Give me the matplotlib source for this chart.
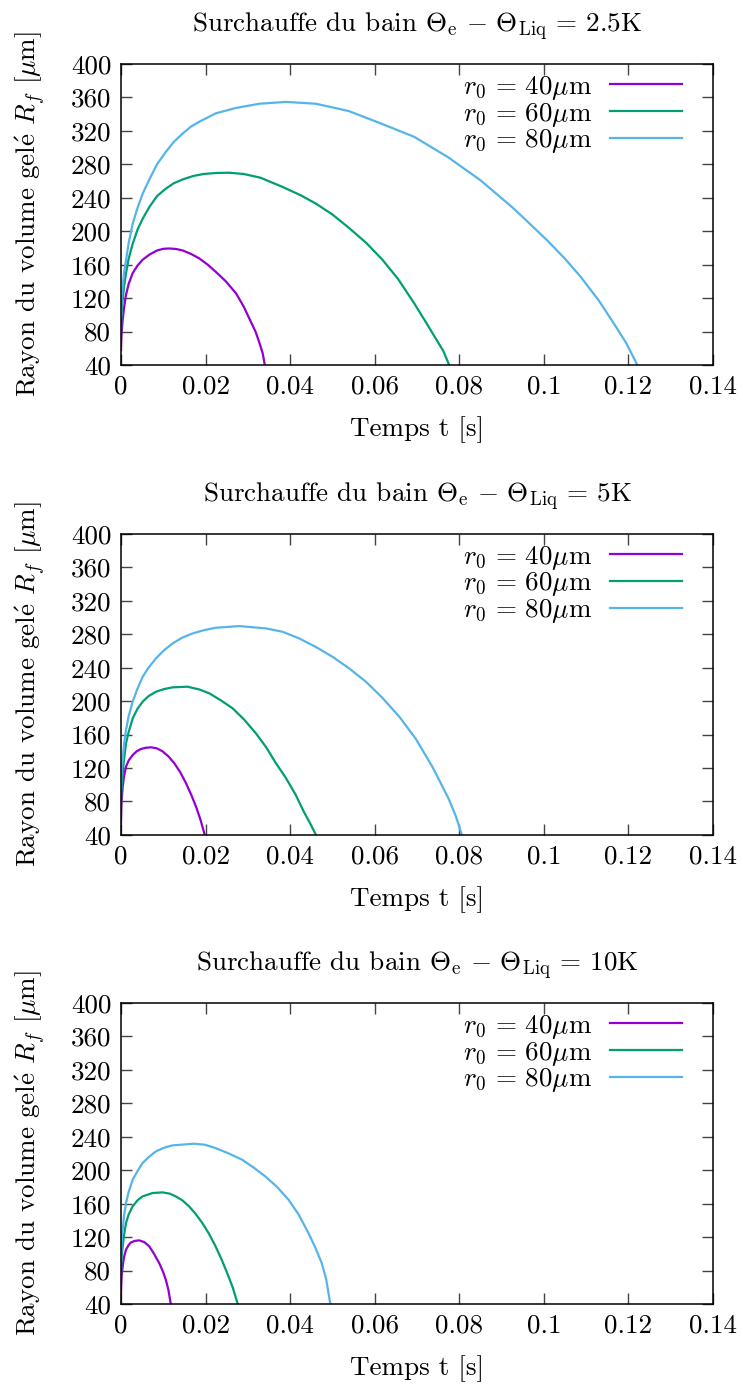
import matplotlib
matplotlib.use("Agg")
import matplotlib.pyplot as plt
from matplotlib.ticker import FuncFormatter, MultipleLocator

plt.rcParams['font.family'] = ['cmr10', 'DejaVu Serif']
plt.rcParams['mathtext.fontset'] = 'cm'
plt.rcParams['font.size'] = 19.5

# Rayon du volume gelé R_f [µm] en fonction du temps t [s]
# --- surchauffe 2.5 K ---
t25_r40 = [0.0, 0.00008, 0.00016, 0.00039, 0.0007, 0.00118, 0.0018, 0.00276, 0.0039,
           0.00512, 0.0067, 0.0085, 0.0100, 0.0114, 0.0130, 0.0146, 0.0165, 0.0185,
           0.0205, 0.0224, 0.0248, 0.0272, 0.0290, 0.0303, 0.0318, 0.0327, 0.0335, 0.0340]
R25_r40 = [58, 72, 80, 94, 108, 124, 137, 150, 159,
           166, 172, 177, 179, 179.4, 178.8, 177, 173, 167.5,
           160, 151.5, 140, 125.7, 110, 96, 80, 67, 54, 40]
t25_r60 = [0.0, 0.00008, 0.00016, 0.00039, 0.0007, 0.00118, 0.0018, 0.00276, 0.0039,
           0.00512, 0.0067, 0.0085, 0.0106, 0.0125, 0.0146, 0.0170, 0.0195, 0.0225,
           0.0256, 0.0290, 0.0330, 0.0382, 0.0425, 0.0461, 0.0500, 0.0539, 0.0580,
           0.0618, 0.0655, 0.0693, 0.0720, 0.0745, 0.0762, 0.0776]
R25_r60 = [80, 97, 105, 118, 133, 150, 167, 185, 202,
           215, 229, 242, 251, 257.5, 262, 266, 268.5, 269.7,
           270, 268.5, 264, 253, 243, 233, 220, 204, 186,
           166, 143, 114, 92, 71, 57, 40]
t25_r80 = [0.0, 0.00008, 0.00016, 0.00039, 0.0007, 0.00118, 0.0018, 0.00276, 0.0039,
           0.00512, 0.0067, 0.0085, 0.0106, 0.0125, 0.0146, 0.0165, 0.0185, 0.0224,
           0.0272, 0.0327, 0.0390, 0.0461, 0.0539, 0.0614, 0.0693, 0.0772, 0.0850,
           0.0929, 0.1008, 0.1050, 0.1087, 0.1130, 0.1165, 0.1195, 0.1221]
R25_r80 = [98, 116, 124, 134, 150, 165, 186, 209, 228,
           245, 262, 280, 295, 307, 317, 325, 331, 341,
           347.5, 352.5, 354.7, 352.5, 343.7, 329, 313, 289, 261,
           227, 189, 167, 145.5, 117, 90, 66, 40]

# --- surchauffe 5 K ---
t5_r40 = [0.0, 0.00008, 0.00016, 0.00039, 0.0007, 0.00118, 0.0018, 0.00276, 0.0037,
          0.00472, 0.0059, 0.0071, 0.0085, 0.0098, 0.0112, 0.0126, 0.0140, 0.01535,
          0.0166, 0.01772, 0.0188, 0.0198]
R5_r40 = [54.7, 72, 82, 97.8, 110, 121.7, 129, 135.6, 140,
          142.8, 144.3, 144.8, 143.5, 140, 134, 125.7, 115, 102,
          88, 74, 58, 40]
t5_r60 = [0.0, 0.00008, 0.00016, 0.00039, 0.0007, 0.00118, 0.0018, 0.00276, 0.0039,
          0.00512, 0.0065, 0.00827, 0.0102, 0.0122, 0.0157, 0.0185, 0.0209, 0.0236,
          0.0264, 0.0291, 0.0319, 0.0343, 0.0366, 0.0390, 0.0413, 0.0432, 0.0447, 0.0461]
R5_r60 = [75.9, 92, 100, 113.7, 130, 149.6, 163, 179.4, 191,
          199.4, 206, 211.3, 214.5, 216.5, 217.3, 214, 209.3, 201,
          191.4, 178, 161.5, 145, 126, 108, 88, 68, 54, 40]
t5_r80 = [0.0, 0.00008, 0.00016, 0.00039, 0.0007, 0.00118, 0.0018, 0.00276, 0.0039,
          0.00512, 0.0065, 0.00827, 0.0102, 0.0122, 0.0145, 0.01693, 0.0197, 0.02244,
          0.0280, 0.0343, 0.0382, 0.0421, 0.0460, 0.0500, 0.0540, 0.0579, 0.0618,
          0.0658, 0.0697, 0.0736, 0.0756, 0.0776, 0.0792, 0.0806]
R5_r80 = [95.8, 113, 121, 129.6, 148, 165.5, 182, 199.4, 215,
          229.2, 240, 251.2, 261, 269.1, 276, 281, 285, 287.8,
          289.8, 287, 283, 275.1, 265, 253.1, 239, 223.3, 204,
          181.4, 155, 121.7, 102, 81.8, 62, 40]

# --- surchauffe 10 K ---
t10_r40 = [0.0, 0.00008, 0.00016, 0.00039, 0.0007, 0.00118, 0.0018, 0.00235, 0.0033,
           0.0043, 0.0055, 0.00667, 0.0078, 0.00902, 0.0099, 0.01059, 0.0112, 0.01176]
R10_r40 = [53.2, 66, 74, 85, 96, 105, 110.5, 113.7, 115.5,
           116.1, 114, 109, 100, 89, 79, 69, 57, 40]
t10_r60 = [0.0, 0.00008, 0.00016, 0.00039, 0.0007, 0.00118, 0.0018, 0.00275, 0.0039,
           0.0051, 0.00745, 0.0098, 0.0115, 0.01294, 0.0145, 0.01608, 0.0176, 0.01922,
           0.0208, 0.02235, 0.0238, 0.0251, 0.0264, 0.0276]
R10_r60 = [73.9, 89, 97, 109, 122, 136.9, 147, 156.8, 164,
           168.7, 172.7, 173.5, 172, 168.7, 164, 156.8, 148, 136.9,
           124, 109, 93, 77, 60, 40]
t10_r80 = [0.0, 0.00008, 0.00016, 0.00039, 0.0007, 0.00118, 0.0018, 0.00275, 0.0039,
           0.0051, 0.0066, 0.00824, 0.0102, 0.01216, 0.01725, 0.0198, 0.02235, 0.0255,
           0.02863, 0.0314, 0.03412, 0.0369, 0.0396, 0.0420, 0.04431, 0.0459, 0.04745,
           0.0485, 0.04949]
R10_r80 = [95, 111, 119, 128.9, 145, 160.8, 174, 188.7, 199,
           208.6, 216, 222.5, 227, 229.7, 231.7, 230.5, 226.5, 220,
           212.6, 203, 192.6, 180, 164.8, 147, 124.9, 108, 89,
           70, 40]

panels = [
    ("2.5", [(t25_r40, R25_r40), (t25_r60, R25_r60), (t25_r80, R25_r80)]),
    ("5", [(t5_r40, R5_r40), (t5_r60, R5_r60), (t5_r80, R5_r80)]),
    ("10", [(t10_r40, R10_r40), (t10_r60, R10_r60), (t10_r80, R10_r80)]),
]
r0_labels = ["40", "60", "80"]
colors = ["#9400d3", "#009e73", "#56b4e9"]

fig = plt.figure(figsize=(7.43, 13.89), dpi=100)
bottoms = [0.7372, 0.3989, 0.0612]

for (dT, curves), bot in zip(panels, bottoms):
    ax = fig.add_axes([0.1629, bot, 0.7968, 0.2167])
    for (t, R), lab, c in zip(curves, r0_labels, colors):
        ax.plot(t, R, color=c, lw=1.6,
                label=r"$r_0\,=\," + lab + r"\mu\mathrm{m}$")
    ax.set_xlim(0, 0.14)
    ax.set_ylim(40, 400)
    ax.xaxis.set_major_locator(MultipleLocator(0.02))
    ax.yaxis.set_major_locator(MultipleLocator(40))
    ax.xaxis.set_major_formatter(FuncFormatter(lambda v, p: "%g" % round(v, 4)))
    ax.yaxis.set_major_formatter(FuncFormatter(lambda v, p: "%d" % v))
    ax.tick_params(direction="in", length=8, width=1, top=True, right=True,
                   labelsize=19.5, pad=7, color="#444444")
    for s in ax.spines.values():
        s.set_linewidth(1.1)
    ax.set_title(r"Surchauffe du bain $\Theta_\mathrm{e}\,-\,\Theta_\mathrm{Liq}\,=\,"
                 + dT + r"$K", fontsize=19.5, pad=23)
    ax.set_xlabel("Temps t [s]", fontsize=19.5, labelpad=13)
    ax.set_ylabel(r"Rayon du volume gel$\mathrm{\acute{e}}$ $R_f$ [$\mu$m]", fontsize=19.5)
    ax.yaxis.set_label_coords(-0.125, 0.5)
    ax.legend(loc="upper right", bbox_to_anchor=(0.948, 0.968), frameon=False,
              markerfirst=False, fontsize=19.5, handlelength=2.67, labelspacing=-0.04,
              borderpad=0, borderaxespad=0, handletextpad=0.67)

fig.savefig("out.png", dpi=100)
